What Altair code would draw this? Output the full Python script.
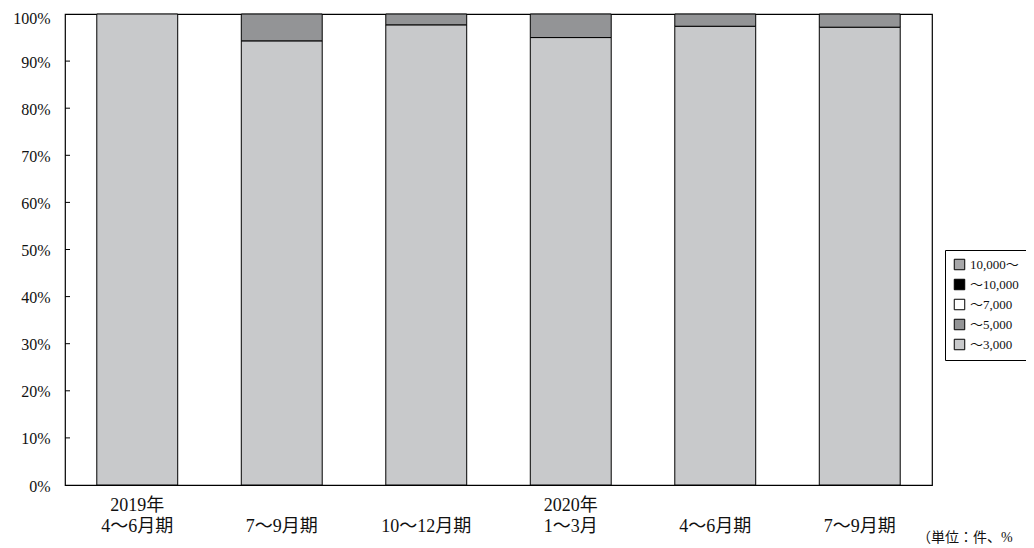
import json
import altair as alt
import pandas as pd

# ---- data ----
period_lines = [["2019年", "4〜6月期"], ["", "7〜9月期"], ["", "10〜12月期"],
                ["2020年", "1〜3月"], ["", "4〜6月期"], ["", "7〜9月期"]]
categories = ["10,000〜", "〜10,000", "〜7,000", "〜5,000", "〜3,000"]
colors = ["#a7a7a9", "#000000", "#ffffff", "#939496", "#c8c9cb"]
s_3000 = [100.0, 94.3, 97.7, 95.0, 97.4, 97.2]
s_5000 = [0.0, 5.7, 2.3, 5.0, 2.6, 2.8]
s_7000 = [0, 0, 0, 0, 0, 0]
s_10000 = [0, 0, 0, 0, 0, 0]
s_over = [0, 0, 0, 0, 0, 0]
y_ticks = [0, 10, 20, 30, 40, 50, 60, 70, 80, 90, 100]
unit_label = "（単位：件、%"

series = {"〜3,000": s_3000, "〜5,000": s_5000, "〜7,000": s_7000,
          "〜10,000": s_10000, "10,000〜": s_over}
stack_rank = {"〜3,000": 0, "〜5,000": 1, "〜7,000": 2, "〜10,000": 3, "10,000〜": 4}

rows = []
for cat, vals in series.items():
    for i, v in enumerate(vals):
        if v > 0:
            rows.append({"idx": i, "cat": cat, "val": v, "rank": stack_rank[cat]})
df = pd.DataFrame(rows)

W, H = 867, 471
SERIF = "Liberation Serif, Noto Sans CJK JP"

label_expr = json.dumps(period_lines, ensure_ascii=False) + "[datum.value]"

bars = alt.Chart(df).mark_bar(stroke="black", strokeWidth=1).encode(
    x=alt.X("idx:O", title=None,
            scale=alt.Scale(paddingInner=0.44, paddingOuter=0.22),
            axis=alt.Axis(labelExpr=label_expr, labelAngle=0, ticks=False, domain=False,
                          labelFont=SERIF, labelFontSize=18, labelColor="#111",
                          labelPadding=11, labelLineHeight=21, labelBaseline="top")),
    y=alt.Y("val:Q", title=None, stack="zero",
            scale=alt.Scale(domain=[0, 100], nice=False),
            axis=alt.Axis(values=y_ticks, labelExpr="datum.value + '%'", ticks=False,
                          domain=False, grid=False, labelFont=SERIF, labelFontSize=16,
                          labelColor="#111", labelPadding=15,
                          labelOffset={"condition": {"test": "datum.value == 100", "value": 4},
                                       "value": 1})),
    color=alt.Color("cat:N", title=None,
                    scale=alt.Scale(domain=categories, range=colors),
                    legend=alt.Legend(orient="none", legendX=880, legendY=236,
                                      symbolType="square", symbolSize=110,
                                      symbolStrokeColor="black", symbolStrokeWidth=1,
                                      labelFont=SERIF, labelFontSize=13, labelColor="#111",
                                      labelOffset=4, rowPadding=5, padding=8,
                                      strokeColor="black", fillColor="white")),
    order=alt.Order("rank:Q", sort="ascending"),
)

tick_df = pd.DataFrame({"t": y_ticks[1:-1]})
ticks = alt.Chart(tick_df).mark_rule(color="black", strokeWidth=1).encode(
    y=alt.Y("t:Q", scale=alt.Scale(domain=[0, 100], nice=False)),
    x=alt.value(0), x2=alt.value(5),
)

unit = alt.Chart(pd.DataFrame({"t": [unit_label]})).mark_text(
    align="left", baseline="middle", font=SERIF, fontSize=14, color="#111"
).encode(text="t:N", x=alt.value(852), y=alt.value(524))

chart = alt.layer(bars, ticks, unit).properties(
    width=W, height=H,
    autosize=alt.AutoSizeParams(type="none"),
    padding={"left": 57, "top": 6, "right": 94, "bottom": 70},
).configure(background="white").configure_view(stroke="black", strokeWidth=1.2)

chart.save("out.html", embed_options={"renderer": "svg", "actions": False})
